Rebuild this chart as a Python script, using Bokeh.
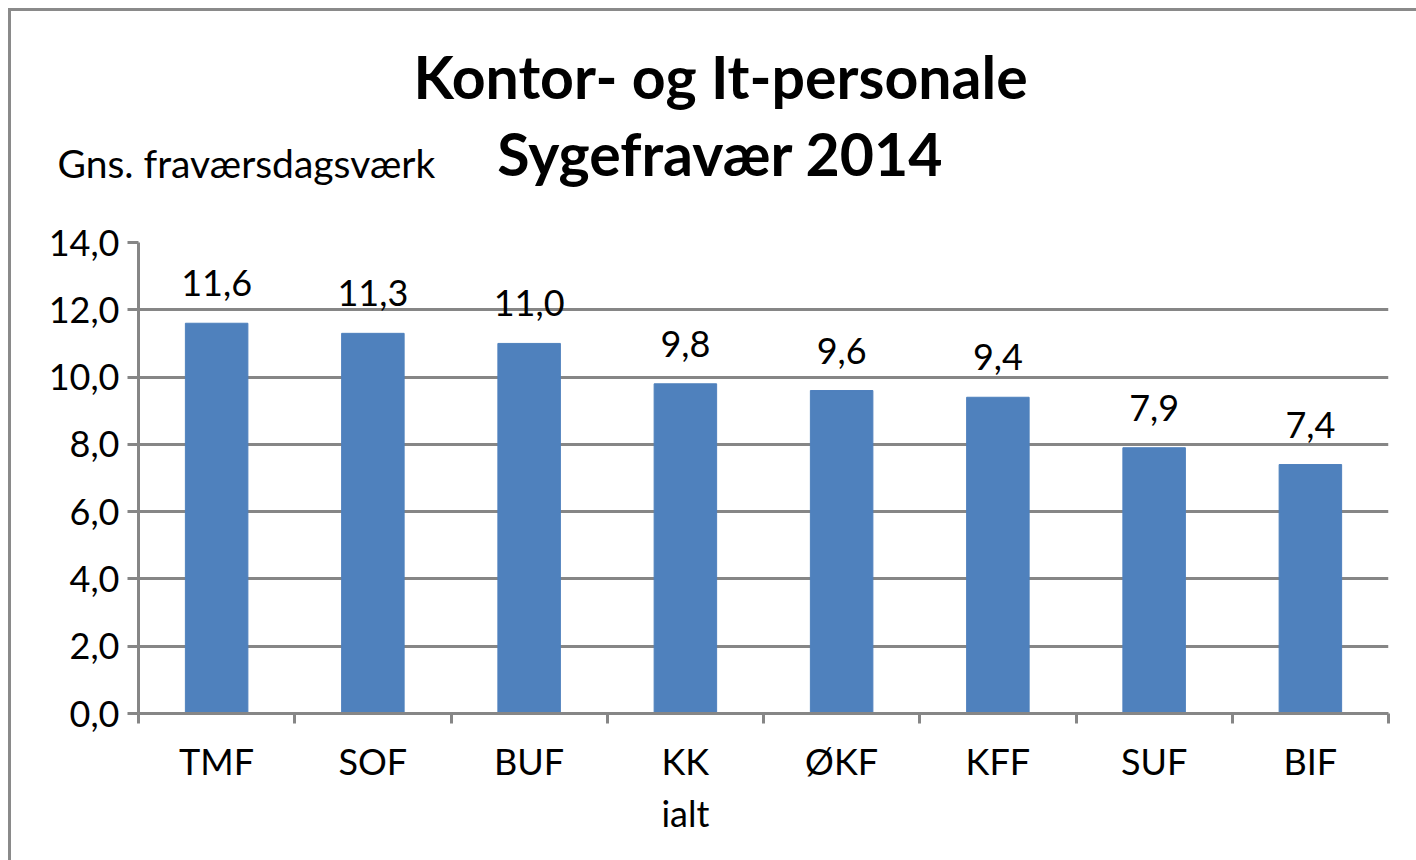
from bokeh.plotting import figure
from bokeh.models import (Range1d, LinearAxis, FixedTicker,
                          ColumnDataSource, LabelSet, Label)
from bokeh.core.properties import value
from bokeh.embed import file_html
from bokeh.resources import INLINE

# ---- data ----
categories = ["TMF", "SOF", "BUF", "KK\nialt", "ØKF", "KFF", "SUF", "BIF"]
values = [11.6, 11.3, 11.0, 9.8, 9.6, 9.4, 7.9, 7.4]
y_ticks = [0, 2, 4, 6, 8, 10, 12, 14]
title_line1 = "Kontor- og It-personale"
title_line2 = "Sygefravær 2014"
y_label = "Gns. fraværsdagsværk"

def fmt(v):
    return f"{v:.1f}".replace(".", ",")

GRAY = "#868686"
BAR = "#4F81BD"
FONT = "Lato"

n = len(categories)
centers = [i + 0.5 for i in range(n)]
boundaries = list(range(n + 1))

p = figure(width=1416, height=860, output_backend="svg", toolbar_location=None,
           x_range=Range1d(0, n), y_range=Range1d(0, 14),
           x_axis_location=None, y_axis_location=None,
           min_border_left=138, min_border_top=242, min_border_right=28, min_border_bottom=147,
           styles={"box-shadow": "inset 8px 8px 0 0 #ffffff, inset 11px 11px 0 0 #8a8a8a"})
p.outline_line_color = None
p.xgrid.visible = False
p.background_fill_color = "white"
p.border_fill_color = None

# y axis
yax = LinearAxis(ticker=FixedTicker(ticks=y_ticks),
                 major_label_overrides={t: fmt(t) for t in y_ticks})
yax.axis_line_color = GRAY
yax.axis_line_width = 3
yax.major_tick_line_color = GRAY
yax.major_tick_line_width = 3
yax.major_tick_out = 11
yax.major_tick_in = 0
yax.minor_tick_line_color = None
yax.major_label_text_font = FONT
yax.major_label_text_font_size = "36px"
yax.major_label_text_color = "black"
yax.major_label_standoff = 8
p.add_layout(yax, "left")

p.ygrid.ticker = FixedTicker(ticks=y_ticks)
p.ygrid.grid_line_color = GRAY
p.ygrid.grid_line_width = 3

# x axis: category labels at bar centres, tick marks at category boundaries
xc = LinearAxis(ticker=FixedTicker(ticks=centers, minor_ticks=boundaries),
                major_label_overrides={c: name for c, name in zip(centers, categories)})
xc.axis_line_color = GRAY
xc.axis_line_width = 3
xc.major_tick_line_color = None
xc.major_tick_out = 10
xc.major_tick_in = 0
xc.minor_tick_line_color = GRAY
xc.minor_tick_line_width = 3
xc.minor_tick_out = 10
xc.minor_tick_in = 0
xc.major_label_text_font = FONT
xc.major_label_text_font_size = "36px"
xc.major_label_text_color = "black"
xc.major_label_standoff = 15
p.add_layout(xc, "below")

src = ColumnDataSource(dict(x=centers, top=values, lab=[fmt(v) for v in values]))
p.vbar(x="x", top="top", width=0.4, source=src, fill_color=BAR, line_color=BAR)

p.add_layout(LabelSet(x="x", y="top", text="lab", source=src, text_align="center",
                      text_baseline="bottom", y_offset=27, text_font=value(FONT),
                      text_font_size=value("36px"), text_color="black"))

# titles and y-axis caption, placed in the top side panel (not clipped to the frame)
p.add_layout(Label(x=3.725, y=18.934, text=title_line1,
                   text_align="center", text_baseline="middle", text_font=FONT,
                   text_font_style="bold", text_font_size="59px", text_color="black"), "above")
p.add_layout(Label(x=3.725, y=16.66, text=title_line2,
                   text_align="center", text_baseline="middle", text_font=FONT,
                   text_font_style="bold", text_font_size="59px", text_color="black"), "above")
p.add_layout(Label(x=-0.5184, y=16.363, text=y_label,
                   text_align="left", text_baseline="middle", text_font=FONT,
                   text_font_size="39px", text_color="black"), "above")

open("out.html", "w").write(file_html(p, INLINE))
